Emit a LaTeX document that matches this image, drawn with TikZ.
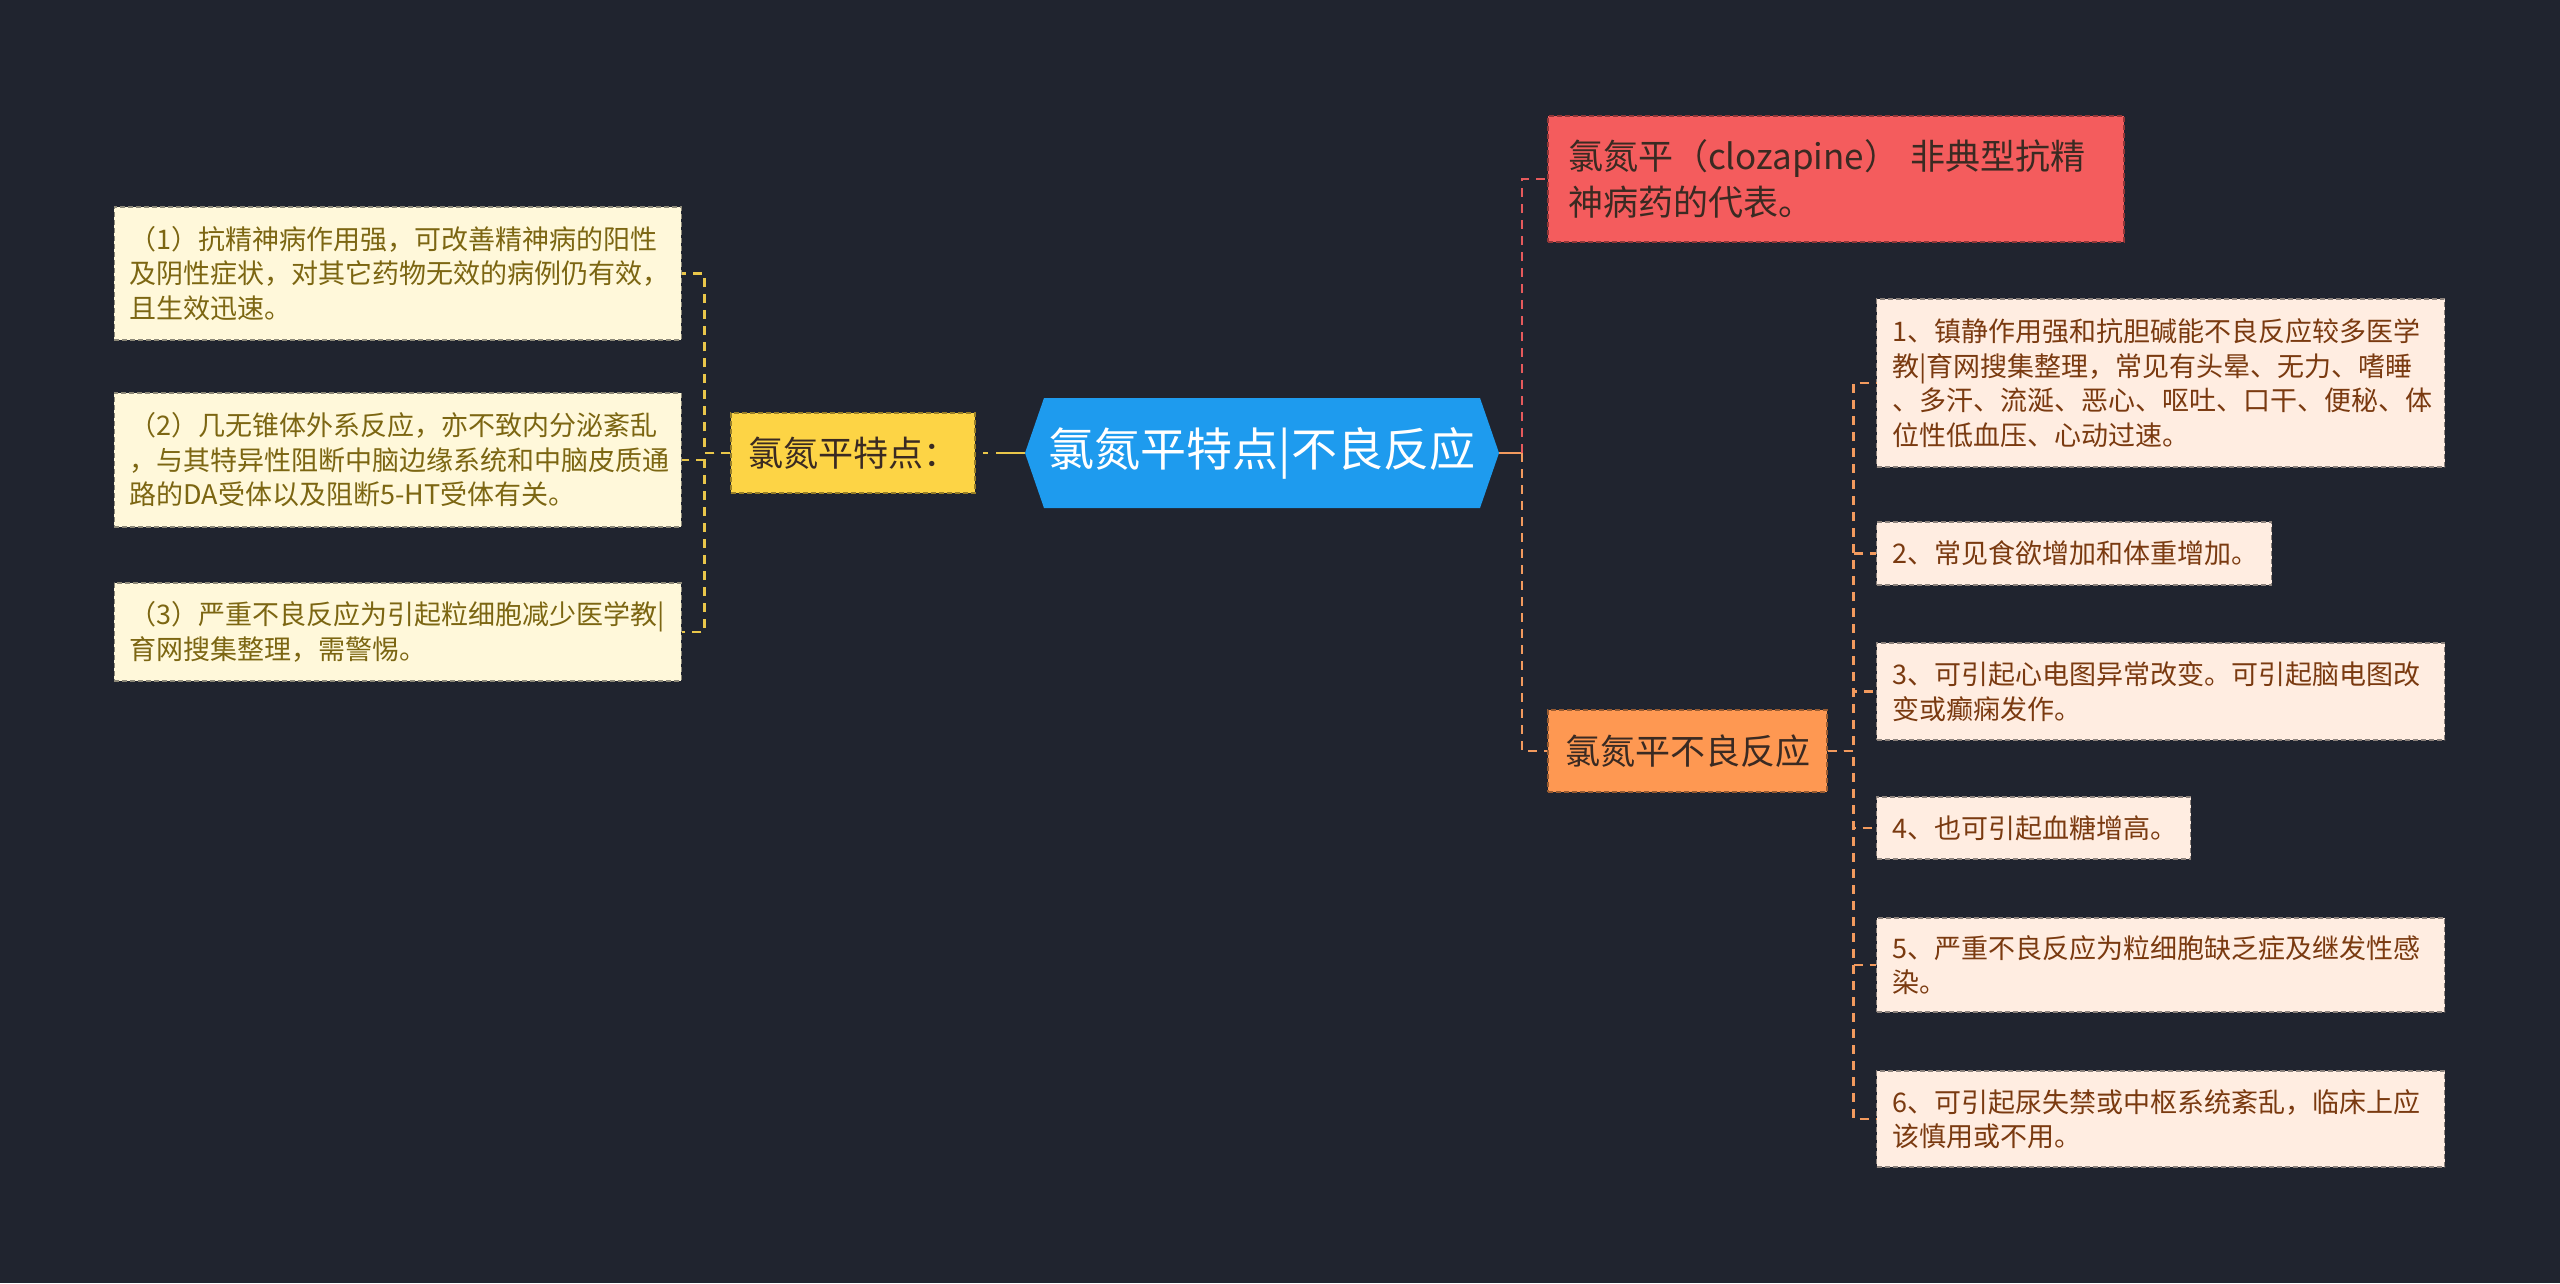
\documentclass[tikz,border=0pt]{standalone}
\usepackage{fontspec}
\setmainfont{Noto Sans CJK SC}
\definecolor{bgc}{HTML}{20242F}
\definecolor{rootc}{HTML}{1E9BEE}
\definecolor{ysubc}{HTML}{FDD445}
\definecolor{ylinec}{HTML}{E9C64A}
\definecolor{lleaff}{HTML}{FFF8DA}
\definecolor{lleaft}{HTML}{7C6612}
\definecolor{redc}{HTML}{F45C5D}
\definecolor{redlinec}{HTML}{E65A5C}
\definecolor{orc}{HTML}{FE9852}
\definecolor{orlinec}{HTML}{F29A5E}
\definecolor{rleaff}{HTML}{FFEDE1}
\definecolor{rleaft}{HTML}{7A3A10}
\definecolor{darktext}{HTML}{3A2A22}
\tikzset{
  lineY/.style={draw=ylinec, line width=2.8pt, dash pattern=on 9pt off 7pt},
  lineR/.style={draw=redlinec, line width=2.8pt, dash pattern=on 9pt off 7pt},
  lineO/.style={draw=orlinec, line width=2.8pt, dash pattern=on 9pt off 7pt},
  leafL/.style={fill=lleaff, draw=lleaff!55!black, line width=1.2pt, dash pattern=on 5pt off 3pt,
    text=lleaft, font=\fontsize{27}{34.5}\selectfont, align=left, inner xsep=15pt, inner ysep=0pt,
    text width=537pt, anchor=east},
  leafR/.style={fill=rleaff, draw=rleaff!55!black, line width=1.2pt, dash pattern=on 5pt off 3pt,
    text=rleaft, font=\fontsize{27}{34.5}\selectfont, align=left, inner xsep=16pt, inner ysep=0pt,
    anchor=west},
  subbox/.style={line width=1.2pt, dash pattern=on 5pt off 3pt, text=darktext,
    font=\fontsize{35}{46}\selectfont, inner sep=0pt},
}
\begin{document}
\begin{tikzpicture}[x=1pt,y=-1pt]
\useasboundingbox[fill=bgc] (0,0) rectangle (2560,1283);
% root hexagon
\fill[rootc] (1025,453) -- (1044,398) -- (1480,398) -- (1499,453) -- (1480,508) -- (1044,508) -- cycle;
\node[minimum width=474pt, minimum height=110pt, inner sep=0pt, text=white,
  font=\fontsize{46}{50}\selectfont] (root) at (1262,453) {氯氮平特点|不良反应};
% left subtopic
\node[subbox, fill=ysubc, draw=ysubc!60!black, minimum width=244pt, minimum height=80pt] (ysub) at (853,453) {氯氮平特点：};
% left leaves
\node[leafL, minimum height=133pt] (L1) at (682,273.5) {（1）抗精神病作用强，可改善精神病的阳性\\及阴性症状，对其它药物无效的病例仍有效，\\且生效迅速。};
\node[leafL, minimum height=134pt] (L2) at (682,460) {（2）几无锥体外系反应，亦不致内分泌紊乱\\，与其特异性阻断中脑边缘系统和中脑皮质通\\路的DA受体以及阻断5-HT受体有关。};
\node[leafL, minimum height=98pt] (L3) at (682,632) {（3）严重不良反应为引起粒细胞减少医学教|\\育网搜集整理，需警惕。};
% right subtopics
\node[subbox, fill=redc, draw=redc!60!black, minimum width=576pt, minimum height=126pt,
  text width=536pt, align=left] (rsub) at (1836,179) {氯氮平（clozapine） 非典型抗精\\神病药的代表。};
\node[subbox, fill=orc, draw=orc!60!black, minimum width=279pt, minimum height=82pt] (osub) at (1687.5,751) {氯氮平不良反应};
% right leaves
\node[leafR, text width=536pt, minimum height=168pt] (R1) at (1876,383) {1、镇静作用强和抗胆碱能不良反应较多医学\\教|育网搜集整理，常见有头晕、无力、嗜睡\\、多汗、流涎、恶心、呕吐、口干、便秘、体\\位性低血压、心动过速。};
\node[leafR, text width=363pt, minimum height=63pt] (R2) at (1876,553.5) {2、常见食欲增加和体重增加。};
\node[leafR, text width=536pt, minimum height=97pt] (R3) at (1876,691.5) {3、可引起心电图异常改变。可引起脑电图改\\变或癫痫发作。};
\node[leafR, text width=282pt, minimum height=62pt] (R4) at (1876,828) {4、也可引起血糖增高。};
\node[leafR, text width=536pt, minimum height=94pt] (R5) at (1876,965) {5、严重不良反应为粒细胞缺乏症及继发性感\\染。};
\node[leafR, text width=536pt, minimum height=96pt] (R6) at (1876,1119) {6、可引起尿失禁或中枢系统紊乱，临床上应\\该慎用或不用。};
% connectors: root to left subtopic
\draw[draw=ylinec, line width=2.8pt, dash pattern=on 29pt off 8pt on 5pt off 100pt] (root.west) -- (ysub.east);
% left subtopic to leaves
\foreach \n in {L1,L2,L3} {
  \draw[lineY] (ysub.west) -- ++(-26,0) |- (\n.east);
}
% root to right subtopics
\coordinate (rb) at (1522,453);
\draw[draw=orlinec, line width=2.8pt] (root.east) -- (rb);
\draw[lineR] (rb) |- (rsub.west);
\draw[lineO] (rb) |- (osub.west);
% right subtopic to leaves
\foreach \n in {R1,R2,R3,R4,R5,R6} {
  \draw[lineO] (osub.east) -- ++(26,0) |- (\n.west);
}
\end{tikzpicture}
\end{document}
